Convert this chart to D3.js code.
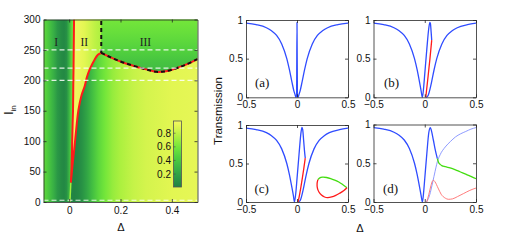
<!DOCTYPE html>
<html><head><meta charset="utf-8">
<script src="https://cdn.jsdelivr.net/npm/d3@7"></script>
<style>body{margin:0;background:#fff;} svg{display:block;}</style>
</head><body><svg id="c" width="512" height="245"></svg>
<script>
// ---------------- DATA ----------------
// heat map axes
const mapDeltaDomain = [-0.1, 0.5];
const mapIntensityDomain = [0, 300];
const mapXTicks = [0, 0.2, 0.4];
const mapYTicks = [0, 50, 100, 150, 200, 250, 300];
const colorbarTicks = [0.2, 0.4, 0.6, 0.8];
const colorbarDomain = [0.01, 0.98];
const regionLabels = ["I", "II", "III"];
const regionLabelDelta = [-0.051, 0.059, 0.297];
const regionLabelI = [256, 256, 256];
const dashedLevels = [250, 220, 200, 3];
const switchDelta = 0.125;

// colour map (value -> colour)
const cmapValues = [0, 0.15, 0.3, 0.45, 0.6, 0.75, 0.9, 1.0];
const cmapColors = ["#1f8043", "#2b9946", "#3bb544", "#50d03e", "#74e63a", "#acf03f", "#e2f652", "#f8f866"];

// heat map transmission profiles [Δ, T]
const leftProfile = [[-0.1,0.52],[-0.08,0.40],[-0.06,0.26],[-0.045,0.14],[-0.03,0.07],[-0.02,0.05],[-0.01,0.10],[0,0.30],[0.01,0.52],[0.02,0.68]];
const lowerProfile = [[0,0.10],[0.01,0.03],[0.02,0.02],[0.035,0.05],[0.05,0.11],[0.07,0.22],[0.09,0.35],[0.115,0.50],[0.14,0.60],[0.17,0.69],[0.2,0.75],[0.25,0.82],[0.3,0.86],[0.4,0.90],[0.5,0.92]];
const wedgeProfile = [[0,0.97],[0.02,0.97],[0.04,0.94],[0.06,0.90],[0.08,0.85],[0.1,0.80],[0.125,0.75]];
const region3Profile = [[300,0.60],[280,0.55],[260,0.49],[245,0.44],[230,0.38],[212,0.33]]; // [I, T]

// boundaries [Δ, I]
const leftBranch = [[0.0066,32],[0.0095,60],[0.0116,96],[0.0135,130],[0.015,150],[0.016,190],[0.017,220],[0.018,260],[0.019,300]];
const rightBranch = [[0.0066,32],[0.013,60],[0.022,96],[0.03,130],[0.036,151],[0.048,175],[0.061,191],[0.069,205],[0.080,218],[0.099,234],[0.112,242],[0.125,245]];
const upperBoundary = [[0.125,245],[0.15,240],[0.2,231],[0.25,224],[0.3,218],[0.34,214],[0.37,214.5],[0.4,217.5],[0.45,225],[0.5,235]];
const narrowLine = [[0.003,0],[0.0066,32]];

// small panels
const panelXTicks = [-0.5, 0, 0.5];
const panelYTicks = [0, 0.5, 1];
const panelLabels = ["(a)", "(b)", "(c)", "(d)"];
const leftWing = [[-0.5,0.96],[-0.4,0.94],[-0.3,0.90],[-0.25,0.86],[-0.2,0.80],[-0.15,0.69],[-0.1,0.50],[-0.075,0.36],[-0.05,0.19],[-0.035,0.08]];
const aCurve = [[-0.5,0.96],[-0.4,0.94],[-0.3,0.90],[-0.25,0.86],[-0.2,0.80],[-0.15,0.69],[-0.1,0.50],[-0.075,0.36],[-0.05,0.20],[-0.03,0.08],[-0.018,0.03],[-0.011,0.0],[-0.004,0.02],[0,0.97],[0.004,0.02],[0.011,0.0],[0.018,0.03],[0.03,0.08],[0.05,0.20],[0.075,0.36],[0.1,0.50],[0.15,0.69],[0.2,0.80],[0.25,0.86],[0.3,0.90],[0.4,0.94],[0.5,0.96]];
const bUpper = leftWing.concat([[-0.023,0.0],[-0.01,0.14],[0,0.30],[0.02,0.62],[0.04,0.90],[0.05,0.97],[0.056,0.95],[0.062,0.85],[0.068,0.74]]);
const bRed = [[0.01,0.0],[0.03,0.24],[0.05,0.49],[0.068,0.74]];
const bLower = [[0.01,0.0],[0.02,0.005],[0.035,0.03],[0.05,0.10],[0.067,0.20],[0.09,0.35],[0.117,0.50],[0.167,0.69],[0.217,0.80],[0.267,0.86],[0.317,0.90],[0.417,0.94],[0.5,0.96]];
const cUpper = leftWing.concat([[-0.025,0.0],[-0.01,0.14],[0,0.30],[0.02,0.62],[0.04,0.91],[0.049,0.97],[0.056,0.94],[0.065,0.80],[0.073,0.67],[0.081,0.57]]);
const cRed = [[0.01,0.0],[0.02,0.06],[0.039,0.20],[0.065,0.42],[0.081,0.57]];
const cLower = bLower;
const cLoopGreen = [[0.205,0.29],[0.22,0.31],[0.25,0.322],[0.29,0.318],[0.33,0.305],[0.37,0.285],[0.41,0.26],[0.45,0.225],[0.49,0.186]];
const cLoopRed = [[0.205,0.29],[0.197,0.24],[0.2,0.18],[0.215,0.13],[0.24,0.09],[0.27,0.065],[0.3,0.057],[0.34,0.065],[0.38,0.085],[0.42,0.115],[0.46,0.15],[0.49,0.186]];
const dUpper = leftWing.concat([[-0.023,0.0],[-0.01,0.14],[0,0.30],[0.02,0.62],[0.04,0.90],[0.055,0.96],[0.065,0.92],[0.084,0.80],[0.1,0.69],[0.123,0.56]]);
const dGreen = [[0.123,0.56],[0.135,0.51],[0.15,0.485],[0.166,0.47],[0.2,0.455],[0.247,0.44],[0.3,0.415],[0.344,0.39],[0.4,0.36],[0.45,0.33],[0.5,0.30]];
const dLowerThin = [[0.015,0.0],[0.03,0.03],[0.05,0.10],[0.07,0.21],[0.09,0.33],[0.11,0.45],[0.123,0.52],[0.15,0.61],[0.2,0.71],[0.25,0.78],[0.3,0.84],[0.35,0.88],[0.4,0.91],[0.45,0.94],[0.5,0.96]];
const dRedThin = [[0.02,0.0],[0.04,0.10],[0.06,0.21],[0.075,0.27],[0.085,0.28],[0.1,0.26],[0.13,0.18],[0.16,0.10],[0.2,0.05],[0.23,0.035],[0.27,0.04],[0.32,0.07],[0.38,0.11],[0.44,0.15],[0.5,0.18]];

// ---------------- DRAWING ----------------
const svg = d3.select("#c");
const defs = svg.append("defs");
const SANS = "'Liberation Sans', Arial, sans-serif";
const SERIF = "'Liberation Serif', 'Times New Roman', serif";
const AX = "#262626";
const BLUE = "#2f4cff", BLUE_L = "#8190ff", RED = "#ff1a1a", RED_L = "#ff6e6e", GREEN = "#44dd11";

const color = d3.scaleLinear().domain(cmapValues).range(cmapColors).clamp(true);
const fmt = d => (d < 0 ? "\u2212" + Math.abs(d) : String(d));

// heat map scales
const mx = d3.scaleLinear().domain(mapDeltaDomain).range([43.5, 197.5]);
const my = d3.scaleLinear().domain(mapIntensityDomain).range([202, 19.5]);

defs.append("clipPath").attr("id", "mapclip").append("rect")
  .attr("x", 43.5).attr("y", 19.5).attr("width", 154).attr("height", 182.5);

function hGrad(id, profile) {
  const x0 = mx.range()[0], x1 = mx.range()[1];
  const g = defs.append("linearGradient").attr("id", id).attr("gradientUnits", "userSpaceOnUse")
    .attr("x1", x0).attr("x2", x1).attr("y1", 0).attr("y2", 0);
  g.selectAll("stop").data(profile).join("stop")
    .attr("offset", d => Math.max(0, Math.min(1, (mx(d[0]) - x0) / (x1 - x0))))
    .attr("stop-color", d => color(d[1]));
}
hGrad("gLeft", leftProfile);
hGrad("gLower", lowerProfile);
hGrad("gWedge", wedgeProfile);
(function () {
  const y0 = my(300), y1 = my(205);
  const g = defs.append("linearGradient").attr("id", "gR3").attr("gradientUnits", "userSpaceOnUse")
    .attr("x1", 0).attr("x2", 0).attr("y1", y0).attr("y2", y1);
  g.selectAll("stop").data(region3Profile).join("stop")
    .attr("offset", d => (my(d[0]) - y0) / (y1 - y0))
    .attr("stop-color", d => color(d[1]));
})();

const curveLine = d3.line().x(d => mx(d[0])).y(d => my(d[1])).curve(d3.curveCatmullRom.alpha(0.5));
const cont = p => curveLine(p).replace(/^M/, "L");
const pt = (a, b) => `L${mx(a)},${my(b)}`;

const map = svg.append("g").attr("clip-path", "url(#mapclip)");
map.append("rect").attr("x", 43.5).attr("y", 19.5).attr("width", 154).attr("height", 182.5).attr("fill", "url(#gLeft)");
// lower-right region (lower branch)
map.append("path").attr("fill", "url(#gLower)")
  .attr("d", curveLine(narrowLine) + cont(rightBranch) + cont(upperBoundary) + pt(0.55, 235) + pt(0.55, -10) + pt(0.003, -10) + "Z");
// wedge region II
map.append("path").attr("fill", "url(#gWedge)")
  .attr("d", curveLine(leftBranch) + pt(0.019, 310) + pt(switchDelta, 310) + pt(switchDelta, 245) + cont(rightBranch.slice().reverse()) + "Z");
// region III
map.append("path").attr("fill", "url(#gR3)")
  .attr("d", curveLine(upperBoundary) + pt(0.55, 235) + pt(0.55, 310) + pt(switchDelta, 310) + "Z");
// narrow transparency line
map.append("path").attr("d", curveLine(narrowLine)).attr("fill", "none")
  .attr("stroke", color(0.72)).attr("stroke-width", 1.4);
// red boundary
map.append("path").attr("fill", "none").attr("stroke", RED).attr("stroke-width", 2)
  .attr("d", curveLine(leftBranch.slice().reverse()) + cont(rightBranch) + cont(upperBoundary));
// black dashed
map.append("path").attr("fill", "none").attr("stroke", "#111").attr("stroke-width", 2)
  .attr("stroke-dasharray", "4,3").attr("d", curveLine(upperBoundary));
map.append("line").attr("x1", mx(switchDelta)).attr("x2", mx(switchDelta)).attr("y1", my(245)).attr("y2", my(300))
  .attr("stroke", "#111").attr("stroke-width", 2).attr("stroke-dasharray", "4,3");
// white dashed levels
map.selectAll("line.lvl").data(dashedLevels).join("line").attr("class", "lvl")
  .attr("x1", mx.range()[0]).attr("x2", mx.range()[1]).attr("y1", d => my(d)).attr("y2", d => my(d))
  .attr("stroke", "#fff").attr("stroke-opacity", 0.85).attr("stroke-width", 1.1).attr("stroke-dasharray", "5,3");
// region labels
map.selectAll("text.reg").data(regionLabels).join("text").attr("class", "reg")
  .attr("x", (d, i) => mx(regionLabelDelta[i])).attr("y", (d, i) => my(regionLabelI[i]))
  .attr("text-anchor", "middle").attr("font-family", SERIF).attr("font-size", 11.5).attr("fill", "#222").text(d => d);

// colorbar
const cby = d3.scaleLinear().domain(colorbarDomain).range([187, 121]);
const cbg = defs.append("linearGradient").attr("id", "gCb").attr("x1", 0).attr("x2", 0).attr("y1", 1).attr("y2", 0);
cbg.selectAll("stop").data(d3.range(0, 1.0001, 0.05)).join("stop")
  .attr("offset", d => d)
  .attr("stop-color", d => color(colorbarDomain[0] + d * (colorbarDomain[1] - colorbarDomain[0])));
svg.append("rect").attr("x", 173.5).attr("y", 121).attr("width", 8).attr("height", 66)
  .attr("fill", "url(#gCb)").attr("stroke", "#555").attr("stroke-width", 0.8);
svg.selectAll("text.cbt").data(colorbarTicks).join("text").attr("class", "cbt")
  .attr("x", 171).attr("y", d => cby(d)).attr("dy", "0.35em").attr("text-anchor", "end")
  .attr("font-family", SANS).attr("font-size", 10).attr("fill", "#111").text(d => d);
svg.selectAll("line.cbk").data(colorbarTicks).join("line").attr("class", "cbk")
  .attr("x1", 173.5).attr("x2", 175.5).attr("y1", d => cby(d)).attr("y2", d => cby(d)).attr("stroke", "#444").attr("stroke-width", 0.6);

// axes helper
function axes(g, x, y, xt, yt, padX, padY) {
  const yb = y.range()[0], yt0 = y.range()[1], xl = x.range()[0], xr = x.range()[1];
  const style = s => {
    s.selectAll("path").attr("stroke", AX).attr("stroke-width", 0.8);
    s.selectAll("line").attr("stroke", AX).attr("stroke-width", 0.8);
    s.selectAll("text").attr("font-family", SANS).attr("font-size", 10).attr("fill", "#111");
  };
  g.append("g").attr("transform", `translate(0,${yb})`)
    .call(d3.axisBottom(x).tickValues(xt).tickSize(-3).tickSizeOuter(0).tickPadding(padX).tickFormat(fmt)).call(style);
  g.append("g").attr("transform", `translate(0,${yt0})`)
    .call(d3.axisTop(x).tickValues(xt).tickSize(-3).tickSizeOuter(0).tickFormat("")).call(style);
  g.append("g").attr("transform", `translate(${xl},0)`)
    .call(d3.axisLeft(y).tickValues(yt).tickSize(-3).tickSizeOuter(0).tickPadding(padY).tickFormat(fmt)).call(style);
  g.append("g").attr("transform", `translate(${xr},0)`)
    .call(d3.axisRight(y).tickValues(yt).tickSize(-3).tickSizeOuter(0).tickFormat("")).call(style);
}
axes(svg.append("g"), mx, my, mapXTicks, mapYTicks, 5, 3);

// axis titles (heat map)
svg.append("text").attr("x", 121).attr("y", 230.5).attr("text-anchor", "middle")
  .attr("font-family", SANS).attr("font-size", 11).attr("fill", "#111").text("\u0394");
const il = svg.append("text").attr("transform", "translate(13,110) rotate(-90)").attr("text-anchor", "middle")
  .attr("font-family", SANS).attr("font-size", 12).attr("fill", "#111");
il.append("tspan").text("I");
il.append("tspan").attr("font-size", 8).attr("dy", 3).text("in");

// small panels
const panels = [
  {x: [246, 348], y: [97.3, 20], lab: [255, 87]},
  {x: [373.5, 476], y: [97.3, 20], lab: [384, 86.5]},
  {x: [246, 348], y: [202, 125], lab: [254.5, 193]},
  {x: [373.5, 476], y: [202, 124.5], lab: [383, 193]}
];
const series = [
  [{d: aCurve, c: BLUE, w: 1.3}],
  [{d: bUpper, c: BLUE, w: 1.3}, {d: bLower, c: BLUE, w: 1.3}, {d: bRed, c: RED, w: 1.3}],
  [{d: cUpper, c: BLUE, w: 1.3}, {d: cLower, c: BLUE, w: 1.3}, {d: cRed, c: RED, w: 1.3},
   {d: cLoopGreen, c: GREEN, w: 1.3, cr: true}, {d: cLoopRed, c: RED, w: 1.3, cr: true}],
  [{d: dLowerThin, c: BLUE_L, w: 0.9}, {d: dRedThin, c: RED_L, w: 0.9},
   {d: dUpper, c: BLUE, w: 1.3}, {d: dGreen, c: GREEN, w: 1.3}]
];
panels.forEach((p, i) => {
  const x = d3.scaleLinear().domain([-0.5, 0.5]).range(p.x);
  const y = d3.scaleLinear().domain([0, 1]).range(p.y);
  const g = svg.append("g");
  const clipId = "pc" + i;
  defs.append("clipPath").attr("id", clipId).append("rect")
    .attr("x", p.x[0]).attr("y", p.y[1] - 2).attr("width", p.x[1] - p.x[0]).attr("height", p.y[0] - p.y[1] + 2.5);
  const cg = g.append("g").attr("clip-path", `url(#${clipId})`);
  series[i].forEach(s => {
    const ln = d3.line().x(d => x(d[0])).y(d => y(d[1]))
      .curve(s.cr ? d3.curveCatmullRom.alpha(0.5) : d3.curveMonotoneX);
    cg.append("path").attr("d", ln(s.d)).attr("fill", "none").attr("stroke", s.c)
      .attr("stroke-width", s.w).attr("stroke-linejoin", "round");
  });
  axes(g, x, y, panelXTicks, panelYTicks, 4, 3);
  g.append("text").attr("x", p.lab[0]).attr("y", p.lab[1]).attr("font-family", SERIF)
    .attr("font-size", 13).attr("fill", "#111").text(panelLabels[i]);
});
svg.append("text").attr("transform", "translate(222,111) rotate(-90)").attr("text-anchor", "middle")
  .attr("font-family", SANS).attr("font-size", 11.5).attr("fill", "#111").text("Transmission");
svg.append("text").attr("x", 360).attr("y", 231.5).attr("text-anchor", "middle")
  .attr("font-family", SANS).attr("font-size", 11).attr("fill", "#111").text("\u0394");
</script></body></html>
